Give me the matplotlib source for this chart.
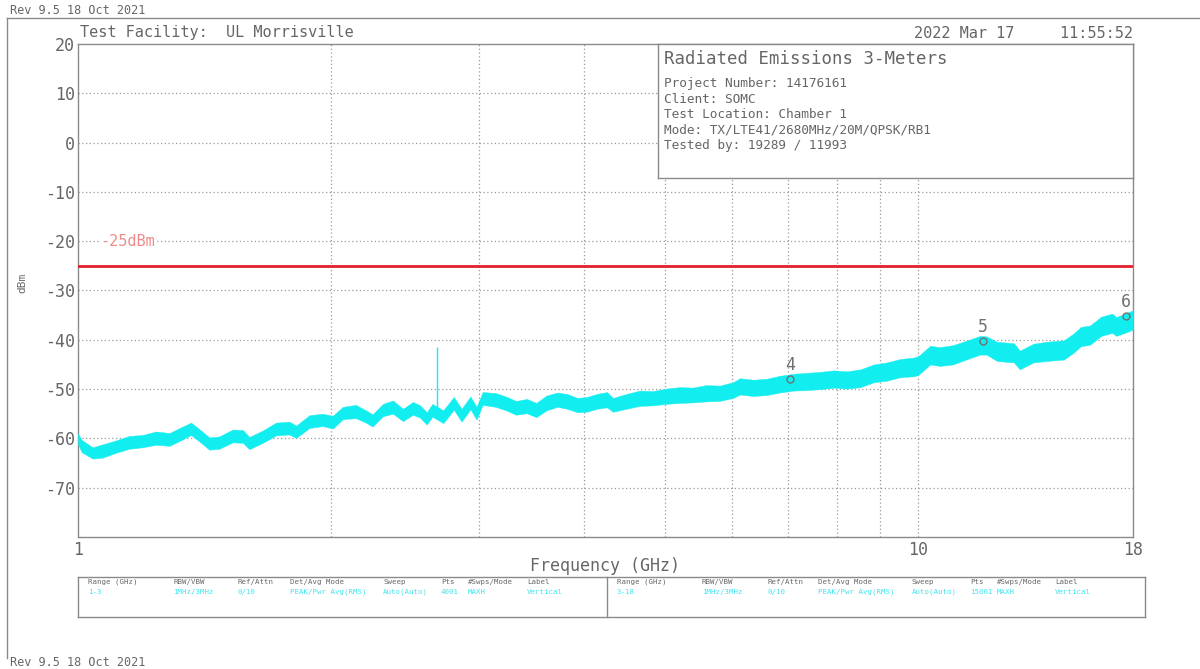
import matplotlib
matplotlib.use("Agg")
import matplotlib.pyplot as plt
from matplotlib.lines import Line2D

plt.rcParams["font.family"] = ["DejaVu Sans Mono"]

# ---------------- data ----------------
freq_ghz = [1.000, 1.010, 1.041, 1.070, 1.110, 1.151, 1.194, 1.238, 1.285, 1.332,
            1.363, 1.394, 1.433, 1.473, 1.528, 1.571, 1.599, 1.659, 1.720, 1.784,
            1.818, 1.885, 1.954, 2.010, 2.066, 2.141, 2.200, 2.241, 2.306, 2.370,
            2.436, 2.503, 2.553, 2.600, 2.640, 2.720, 2.800, 2.860, 2.930, 2.980,
            3.030, 3.140, 3.230, 3.320, 3.420, 3.510, 3.610, 3.720, 3.820, 3.930,
            4.030, 4.140, 4.260, 4.330, 4.490, 4.660, 4.830, 5.010, 5.200, 5.390,
            5.590, 5.800, 6.020, 6.130, 6.360, 6.600, 6.840, 7.100, 7.370, 7.650,
            7.940, 8.220, 8.530, 8.850, 9.170, 9.510, 9.870, 10.00, 10.14, 10.33,
            10.60, 10.99, 11.40, 11.84, 12.05, 12.40, 12.99, 13.20, 13.70, 14.20,
            14.90, 15.30, 15.60, 16.00, 16.50, 17.00, 17.20, 17.60, 18.00]
level_low_dbm = [-61.2, -62.8, -64.1, -63.9, -62.9, -62.1, -61.8, -61.3, -61.5, -60.2,
                 -59.3, -60.6, -62.3, -62.1, -60.8, -60.9, -62.2, -60.9, -59.4, -59.2,
                 -59.9, -57.9, -57.5, -58.0, -56.1, -55.9, -56.8, -57.6, -55.5, -55.0,
                 -56.5, -55.2, -55.8, -57.2, -55.6, -56.9, -54.2, -56.6, -54.1, -56.2,
                 -53.2, -53.6, -54.3, -55.2, -54.9, -55.7, -54.3, -53.6, -54.0, -54.7,
                 -54.6, -54.0, -53.7, -54.6, -54.0, -53.4, -53.3, -53.0, -52.8, -52.7,
                 -52.5, -52.4, -51.8, -51.1, -51.4, -51.2, -50.7, -50.3, -50.2, -50.0,
                 -49.7, -49.9, -49.6, -48.6, -48.3, -47.6, -47.4, -47.1, -46.2, -45.0,
                 -45.3, -45.0, -44.0, -43.0, -43.0, -44.3, -44.6, -46.0, -44.6, -44.3,
                 -44.0, -42.6, -41.3, -41.0, -39.2, -38.6, -39.2, -38.6, -37.9]
level_high_dbm = [-59.0, -60.3, -61.8, -61.2, -60.4, -59.5, -59.3, -58.6, -58.9, -57.6,
                  -56.8, -58.1, -59.8, -59.6, -58.2, -58.3, -59.7, -58.4, -56.8, -56.6,
                  -57.4, -55.3, -55.0, -55.4, -53.6, -53.2, -54.3, -55.1, -53.0, -52.3,
                  -54.0, -52.6, -53.3, -54.7, -53.0, -54.3, -51.6, -54.0, -51.5, -53.6,
                  -50.6, -50.8, -51.5, -52.4, -52.0, -52.8, -51.3, -50.7, -51.0, -51.8,
                  -51.6, -51.0, -50.6, -51.8, -51.0, -50.3, -50.4, -49.9, -49.6, -49.7,
                  -49.2, -49.3, -48.6, -47.8, -48.1, -47.9, -47.3, -46.9, -46.7, -46.5,
                  -46.2, -46.4, -46.0, -45.0, -44.6, -43.9, -43.6, -43.3, -42.4, -41.2,
                  -41.5, -41.1, -40.2, -39.2, -39.3, -40.4, -40.7, -42.2, -40.8, -40.4,
                  -40.1, -38.7, -37.4, -37.1, -35.3, -34.7, -35.4, -34.7, -34.0]

spike_ghz = 2.677
spike_base_dbm = -54.5
spike_top_dbm = -41.4

limit_dbm = -25.0
limit_label = "-25dBm"

marker_ghz = [7.03, 11.92, 17.67]
marker_dbm = [-48.0, -40.2, -35.2]
marker_labels = ["4", "5", "6"]

y_ticks = [20, 10, 0, -10, -20, -30, -40, -50, -60, -70]
x_tick_vals = [1, 10, 18]
x_tick_labels = ["1", "10", "18"]
x_grid_vals = [2, 3, 4, 5, 6, 7, 8, 9, 10]

info_title = "Radiated Emissions 3-Meters"
info_lines = ["Project Number: 14176161",
              "Client: SOMC",
              "Test Location: Chamber 1",
              "Mode: TX/LTE41/2680MHz/20M/QPSK/RB1",
              "Tested by: 19289 / 11993"]

table_headers = ["Range (GHz)", "RBW/VBW", "Ref/Attn", "Det/Avg Mode",
                 "Sweep", "Pts", "#Swps/Mode", "Label"]
table_left_values = ["1-3", "1MHz/3MHz", "0/10", "PEAK/Pwr Avg(RMS)",
                     "Auto(Auto)", "4001", "MAXH", "Vertical"]
table_right_values = ["3-18", "1MHz/3MHz", "0/10", "PEAK/Pwr Avg(RMS)",
                      "Auto(Auto)", "15001", "MAXH", "Vertical"]

# ---------------- style ----------------
W, H = 1200, 669
TXT = "#666666"
GRID = "#9a9a9a"
FRAME = "#8a8a8a"
CYAN = "#12eef0"

fig = plt.figure(figsize=(12, 6.69), dpi=100)
fig.patch.set_facecolor("white")

def fx(px):
    return px / W

def fy(py):
    return 1 - py / H

# outer frame lines
fig.add_artist(Line2D([fx(7), fx(1200)], [fy(18), fy(18)], color=FRAME, lw=1.0))
fig.add_artist(Line2D([fx(7), fx(7)], [fy(18), fy(658)], color=FRAME, lw=1.0))
fig.text(fx(10), fy(10), "Rev 9.5 18 Oct 2021", fontsize=8.5, color=TXT, va="center", ha="left")
fig.text(fx(10), fy(663), "Rev 9.5 18 Oct 2021", fontsize=8.5, color=TXT, va="center", ha="left")

# main axes
ax = fig.add_axes([fx(78), fy(537), fx(1133) - fx(78), fy(44) - fy(537)])
ax.set_xscale("log")
ax.set_xlim(1, 18)
ax.set_ylim(-80, 20)
for s in ax.spines.values():
    s.set_color(FRAME)
    s.set_linewidth(1.0)

ax.set_yticks(y_ticks)
ax.set_yticklabels([str(v) for v in y_ticks], fontsize=12, color=TXT)
ax.set_xticks(x_tick_vals)
ax.set_xticklabels(x_tick_labels, fontsize=12, color=TXT)
ax.xaxis.set_minor_locator(matplotlib.ticker.NullLocator())
ax.tick_params(axis="both", length=0, pad=2)
ax.tick_params(axis="x", pad=3)

for yv in y_ticks[1:]:
    ax.axhline(yv, color=GRID, lw=0.9, ls=(0, (1, 2)), zorder=1)
for xv in x_grid_vals:
    ax.axvline(xv, color=GRID, lw=0.9, ls=(0, (1, 2)), zorder=1)

# limit line
ax.axhline(limit_dbm, color="#e3202c", lw=2.0, zorder=3)
ax.text(1.062, -20, limit_label, color="#f08a8a", fontsize=11, va="center", ha="left", zorder=3,
        bbox=dict(facecolor="white", edgecolor="none", pad=0.5))

# trace
ax.fill_between(freq_ghz, level_low_dbm, level_high_dbm, color=CYAN, lw=0.3,
                edgecolor=CYAN, zorder=4)
ax.vlines(spike_ghz, spike_base_dbm, spike_top_dbm, color=CYAN, lw=1.0, zorder=4)

# markers
ax.plot(marker_ghz, marker_dbm, ls="none", marker="o", ms=5, mfc="none",
        mec="#707070", mew=1.0, zorder=6)
for xm, ym, lab in zip(marker_ghz, marker_dbm, marker_labels):
    ax.annotate(lab, (xm, ym), xytext=(0, 10), textcoords="offset points",
                ha="center", va="center", fontsize=12, color="#707070", zorder=6)

fig.text(fx(605), fy(566), "Frequency (GHz)", fontsize=12, color=TXT, ha="center", va="center")
fig.text(fx(22), fy(283), "dBm", rotation=90, fontsize=8, color=TXT, ha="center", va="center")

# header
fig.text(fx(80), fy(33), "Test Facility:  UL Morrisville", fontsize=11, color=TXT,
         ha="left", va="center")
fig.text(fx(1133), fy(33), "2022 Mar 17     11:55:52", fontsize=11, color=TXT,
         ha="right", va="center")

# info box
bx = fig.add_axes([fx(658), fy(178), fx(1133) - fx(658), fy(44) - fy(178)])
bx.set_xticks([]); bx.set_yticks([])
bx.set_facecolor("white")
for s in bx.spines.values():
    s.set_color(FRAME)
    s.set_linewidth(1.0)
fig.text(fx(664), fy(59), info_title, fontsize=12.5, color=TXT, ha="left", va="center")
for i, line in enumerate(info_lines):
    fig.text(fx(664), fy(84 + i * 15.3), line, fontsize=9.2, color=TXT, ha="left", va="center")

# bottom table
tx = fig.add_axes([fx(78), fy(617), fx(1145) - fx(78), fy(577) - fy(617)])
tx.set_xticks([]); tx.set_yticks([])
for s in tx.spines.values():
    s.set_color(FRAME)
    s.set_linewidth(1.0)
fig.add_artist(Line2D([fx(607), fx(607)], [fy(577), fy(617)], color=FRAME, lw=1.0))
left_cols = [88, 173, 237, 290, 383, 441, 468, 527]
right_cols = [617, 702, 768, 818, 912, 970, 997, 1055]
for cols, vals in ((left_cols, table_left_values), (right_cols, table_right_values)):
    for c, hdr, v in zip(cols, table_headers, vals):
        fig.text(fx(c), fy(582), hdr, fontsize=5.3, color=TXT, ha="left", va="center")
        fig.text(fx(c), fy(592), v, fontsize=5.3, color="#3ee6f0", ha="left", va="center")

fig.savefig("out.png", dpi=100)
